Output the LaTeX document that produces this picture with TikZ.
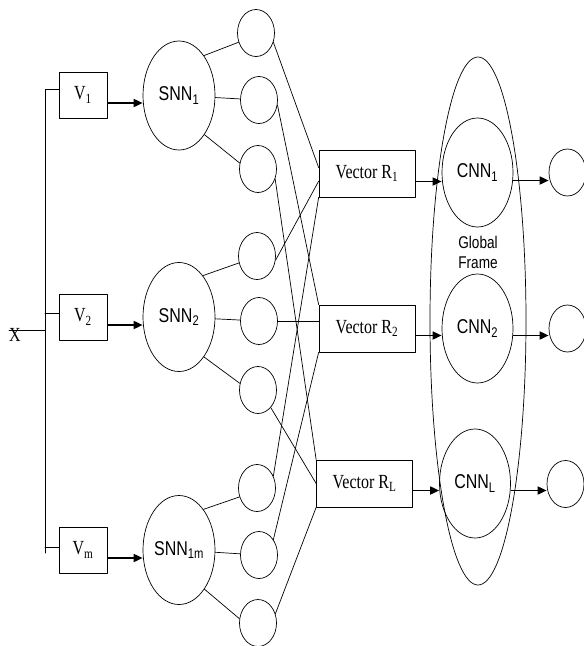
\documentclass[tikz,border=0pt]{standalone}
\usepackage{fontspec}
\setmainfont{Liberation Serif}[FakeStretch=0.8]
\newfontfamily\arialfont{Liberation Sans}[FakeStretch=0.8]
\usetikzlibrary{arrows.meta,shapes.geometric}
\newcommand{\nnsize}{\fontsize{20}{20}\selectfont}

\begin{document}
\begin{tikzpicture}[line cap=round,line join=round,>={Triangle[length=9pt,width=8pt]},x=1pt,y=-1pt,
  every path/.style={line width=0.7pt},
  vbox/.style={draw,rectangle,minimum width=48pt,minimum height=46pt,inner sep=0pt,font=\nnsize},
  vecbox/.style={draw,rectangle,minimum width=96pt,minimum height=47pt,inner sep=0pt,font=\nnsize},
  snn/.style={draw,ellipse,minimum width=72pt,minimum height=109pt,inner sep=0pt,font=\arialfont\nnsize},
  neuron/.style={draw,ellipse,minimum width=37pt,minimum height=47pt,inner sep=0pt},
  feed/.style={->,line width=1.7pt,line cap=butt}]
  \useasboundingbox (0,0) rectangle (584,646);
  \node[font=\nnsize] (X) at (15,335) {X};
  \node[vbox] (V1) at (83,95) {V\textsubscript{1}};
  \node[vbox] (V2) at (83,317) {V\textsubscript{2}};
  \node[vbox] (Vm) at (83,550) {V\textsubscript{m}};
  \coordinate (xin) at (9,330);
  \coordinate (busTop) at (45,89);
  \coordinate (busBot) at (45,553);
  \draw (busTop -| V1.west) -- (busTop) -- (busBot);
  \draw (xin) -- (xin -| busTop);
  \draw ([yshift=4pt]V2.west) -- ([yshift=4pt]V2.west -| busTop);
  \draw ([yshift=3pt]Vm.west) -- ([yshift=3pt]Vm.west -| busTop);
  \node[snn] (SNN1) at (179,95.5) {SNN\textsubscript{1}};
  \node[snn] (SNN2) at (179,317) {SNN\textsubscript{2}};
  \node[snn] (SNN1m) at (179,550) {SNN\textsubscript{1m}};
  \draw[feed] ([yshift=-8pt]V1.east) -- ([yshift=-8pt]V1.east -| SNN1.west);
  \draw[feed] ([yshift=-8pt]V2.east) -- ([yshift=-8pt]V2.east -| SNN2.west);
  \draw[feed] ([yshift=-8pt]Vm.east) -- ([yshift=-8pt]Vm.east -| SNN1m.west);
  \node[neuron] (h1) at (256,33) {};
  \node[neuron] (h2) at (259,100) {};
  \node[neuron] (h3) at (258,169) {};
  \node[neuron] (h4) at (257,256) {};
  \node[neuron] (h5) at (259,321) {};
  \node[neuron] (h6) at (258,390) {};
  \node[neuron] (h7) at (257,488) {};
  \node[neuron] (h8) at (259,555) {};
  \node[neuron] (h9) at (258,623) {};
  \draw (SNN1.58) -- (h1.208);
  \draw (SNN1) -- (h2);
  \draw (SNN1.-57) -- (h3.162);
  \draw (SNN2.60) -- (h4.201);
  \draw (SNN2) -- (h5);
  \draw (SNN2.-58) -- (h6.160);
  \draw (SNN1m.59) -- (h7.207);
  \draw (SNN1m) -- (h8);
  \draw (SNN1m.-57) -- (h9.167);
  \node[vecbox] (R1) at (367,173.5) {Vector R\textsubscript{1}};
  \node[vecbox] (R2) at (367,328.5) {Vector R\textsubscript{2}};
  \node[vecbox] (RL) at (364.5,483.5) {Vector R\textsubscript{L}};
  \draw (h1.-28) -- (R1.173);
  \draw (h2.-15) -- (R2.north west);
  \draw (h3.-30) -- (RL.north west);
  \draw (h4.-13) -- (R1.189);
  \draw (h5) -- (h5 -| R2.west);
  \draw (h6.-54) -- (RL.west);
  \draw (h7.36) -- (R1.south west);
  \draw (h8.47) -- (R2.south west);
  \draw (h9.28) -- (RL.south west);
  \node[draw,ellipse,minimum width=96pt,minimum height=528pt,inner sep=0pt] (frame) at (478,321) {};
  \node[snn,minimum width=71pt] (CNN1) at (477.5,172.5) {CNN\textsubscript{1}};
  \node[snn,minimum width=71pt] (CNN2) at (477.5,328.5) {CNN\textsubscript{2}};
  \node[snn,minimum width=71pt] (CNNL) at (475,483.5) {CNN\textsubscript{L}};
  \node[font=\arialfont\fontsize{17}{20}\selectfont,align=center] (gf) at (478,252) {Global\\Frame};
  \node[neuron] (o1) at (567.5,172.5) {};
  \node[neuron] (o2) at (567.5,328.5) {};
  \node[neuron] (o3) at (565.5,484) {};
  \draw[feed] ([yshift=-8pt]R1.east) -- ([yshift=-8pt]R1.east -| CNN1.west);
  \draw[feed] ([yshift=-7pt]R2.east) -- ([yshift=-7pt]R2.east -| CNN2.west);
  \draw[feed] ([yshift=-7pt]RL.east) -- ([yshift=-7pt]RL.east -| CNNL.west);
  \draw[feed] ([yshift=-8pt]CNN1.east) -- ([yshift=-8pt]CNN1.east -| o1.west);
  \draw[feed] ([yshift=-7pt]CNN2.east) -- ([yshift=-7pt]CNN2.east -| o2.west);
  \draw[feed] ([yshift=-7pt]CNNL.east) -- ([yshift=-7pt]CNNL.east -| o3.west);
\end{tikzpicture}
\end{document}
